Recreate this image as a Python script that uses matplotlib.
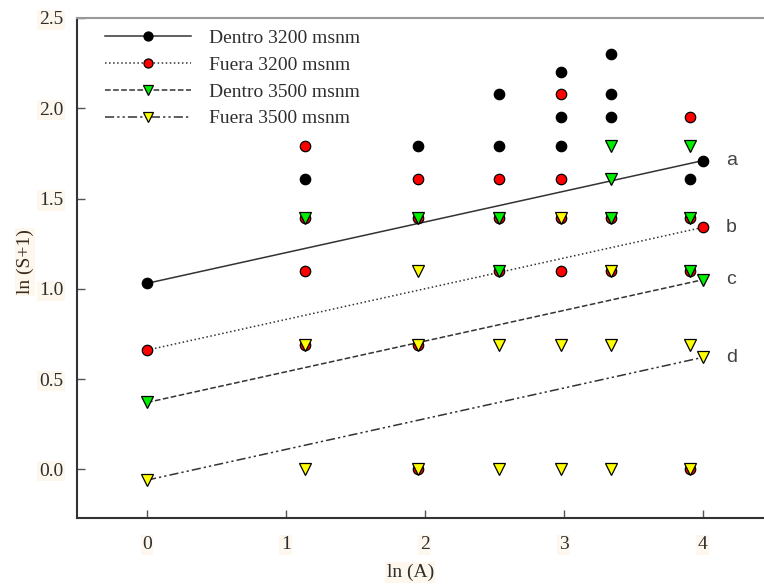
import matplotlib
matplotlib.use("Agg")
import matplotlib.pyplot as plt
from matplotlib.lines import Line2D

# ---- data ----
dentro3200_x = [1.14, 1.95, 2.53, 2.53, 2.98, 2.98, 2.98, 3.34, 3.34, 3.34, 3.91]
dentro3200_y = [1.61, 1.79, 2.08, 1.79, 2.20, 1.95, 1.79, 2.30, 2.08, 1.95, 1.61]

fuera3200_x = [1.14, 1.14, 1.14, 1.14, 1.95, 1.95, 1.95, 1.95, 2.53, 2.53, 2.53,
               2.98, 2.98, 2.98, 2.98, 3.34, 3.34, 3.91, 3.91, 3.91, 3.91]
fuera3200_y = [1.79, 1.39, 1.10, 0.69, 1.61, 1.39, 0.69, 0.00, 1.61, 1.39, 1.10,
               2.08, 1.61, 1.39, 1.10, 1.39, 1.10, 1.95, 1.39, 1.10, 0.00]

dentro3500_x = [1.14, 1.95, 2.53, 2.53, 3.34, 3.34, 3.34, 3.91, 3.91, 3.91]
dentro3500_y = [1.39, 1.39, 1.39, 1.10, 1.79, 1.61, 1.39, 1.79, 1.39, 1.10]

fuera3500_x = [1.14, 1.14, 1.95, 1.95, 1.95, 2.53, 2.53, 2.98, 2.98, 2.98,
               3.34, 3.34, 3.34, 3.91, 3.91]
fuera3500_y = [0.69, 0.00, 1.10, 0.69, 0.00, 0.69, 0.00, 1.39, 0.69, 0.00,
               1.10, 0.69, 0.00, 0.69, 0.00]

# regression lines (start, end)
fit_x = [0.0, 4.0]
fit_a = [1.03, 1.71]
fit_b = [0.66, 1.34]
fit_c = [0.37, 1.05]
fit_d = [-0.06, 0.62]

series_names = ["Dentro 3200 msnm", "Fuera 3200 msnm", "Dentro 3500 msnm", "Fuera 3500 msnm"]
line_letters = ["a", "b", "c", "d"]

xticks = [0, 1, 2, 3, 4]
yticks = [0.0, 0.5, 1.0, 1.5, 2.0, 2.5]

# ---- styling ----
plt.rcParams['font.family'] = ['Liberation Serif', 'DejaVu Serif']
txt_color = '#2e2e2e'
line_color = '#333333'
halo = dict(boxstyle='square,pad=0.08', facecolor='#fef7ee', edgecolor='none')

fig = plt.figure(figsize=(7.64, 5.84), dpi=100)
ax = fig.add_axes([77/764, 66/584, 1 - 77/764, 500/584])

styles = [
    dict(marker='o', mfc='black', ls='-', ms=7.5),
    dict(marker='o', mfc='red', ls=':', ms=7.5),
    dict(marker='v', mfc='#00ee00', ls='--', ms=8.5),
    dict(marker='v', mfc='yellow', ls=(0, (6, 2, 1.5, 2, 1.5, 2)), ms=8.5),
]
xs = [dentro3200_x, fuera3200_x, dentro3500_x, fuera3500_x]
ys = [dentro3200_y, fuera3200_y, dentro3500_y, fuera3500_y]
fits = [fit_a, fit_b, fit_c, fit_d]

for x, y, st in zip(xs, ys, styles):
    ax.plot(x, y, ls='none', marker=st['marker'], mfc=st['mfc'], mec='black',
            mew=0.9, ms=st['ms'], zorder=3)

handles = []
for fy, st, name, let in zip(fits, styles, series_names, line_letters):
    ax.plot(fit_x, fy, color=line_color, lw=1.1, ls=st['ls'], zorder=2)
    ax.plot(fit_x, fy, ls='none', marker=st['marker'], mfc=st['mfc'], mec='black',
            mew=0.9, ms=st['ms'], zorder=4)
    ax.text(4.165, fy[1], let, fontsize=14, color='#444444', va='center', ha='left',
            family=['Liberation Sans', 'DejaVu Sans'])
    handles.append(Line2D([], [], color=line_color, lw=1.1, ls=st['ls'],
                          marker=st['marker'], mfc=st['mfc'], mec='black',
                          mew=0.9, ms=st['ms'] - 1, label=name))

leg = ax.legend(handles=handles, loc='upper left', frameon=False,
                bbox_to_anchor=(0.016, 1.012), fontsize=14, handlelength=4.4,
                handletextpad=0.9, labelspacing=0.47, labelcolor=txt_color)

ax.set_xlim(-0.504, 4.44)
ax.set_ylim(-0.27, 2.5)
ax.set_xticks(xticks)
ax.set_xticklabels([str(t) for t in xticks])
ax.set_yticks(yticks)
ax.set_yticklabels([f"{t:.1f}" for t in yticks])
ax.tick_params(direction='in', length=6, width=1, color='#555555',
               labelsize=14, labelcolor=txt_color, pad=10)
ax.tick_params(axis='x', pad=13)
for lab in ax.get_xticklabels() + ax.get_yticklabels():
    lab.set_bbox(halo)

for side in ['left', 'bottom']:
    ax.spines[side].set_color('#333333')
    ax.spines[side].set_linewidth(1.5)
ax.spines['top'].set_color('#999999')
ax.spines['top'].set_linewidth(1.5)
ax.spines['right'].set_visible(False)

ax.set_xlabel("ln (A)", fontsize=14, color=txt_color, bbox=halo)
ax.set_ylabel("ln (S+1)", fontsize=14, color='#3a2a1a', bbox=halo)
ax.xaxis.set_label_coords(0.485, -0.092)
ax.yaxis.set_label_coords(-0.063, 0.512)

fig.savefig("out.png", dpi=100)
